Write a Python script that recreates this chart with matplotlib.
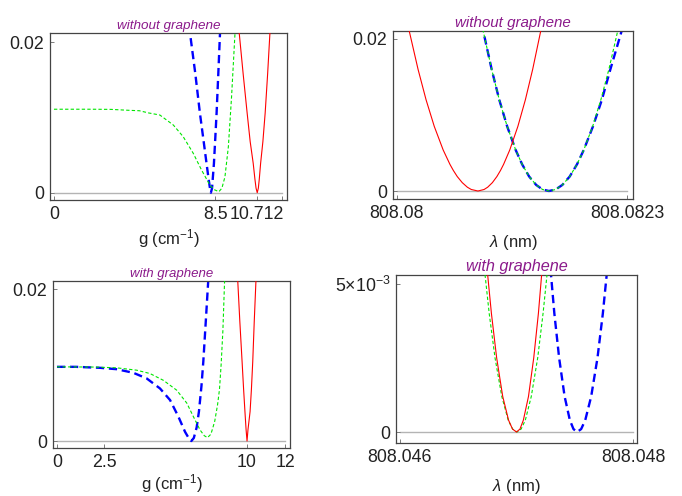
import matplotlib
matplotlib.use("Agg")
import matplotlib.pyplot as plt

plt.rcParams["font.family"] = ["Liberation Sans", "DejaVu Sans"]
plt.rcParams["mathtext.fontset"] = "custom"
plt.rcParams["mathtext.rm"] = "Liberation Sans"
plt.rcParams["mathtext.it"] = "Liberation Sans:italic"

# ---- top left: reflectance vs g, without graphene ----
g1_red = [9.66, 9.764, 9.97, 10.18, 10.34, 10.50, 10.59, 10.65, 10.712,
          10.77, 10.82, 10.89, 11.01, 11.13, 11.26, 11.38, 11.43]
r1_red = [0.024, 0.0212, 0.0158, 0.0106, 0.0068, 0.0039, 0.0018, 0.0006, 0.0,
          0.0006, 0.0018, 0.0039, 0.0068, 0.0106, 0.0158, 0.0212, 0.024]
g1_blue = [7.10, 7.17, 7.45, 7.69, 7.90, 8.04, 8.15, 8.22, 8.27,
           8.33, 8.43, 8.50, 8.57, 8.66, 8.75, 8.78]
r1_blue = [0.024, 0.0212, 0.0158, 0.0106, 0.0066, 0.0039, 0.0018, 0.0006, 0.0,
           0.0006, 0.0039, 0.0072, 0.0106, 0.0158, 0.0212, 0.024]
g1_green = [0.0, 1.0, 2.0, 3.0, 4.0, 4.5, 5.0, 5.58, 6.29, 6.81, 7.34, 7.78,
            8.22, 8.45, 8.69, 8.85, 9.01, 9.19, 9.36, 9.54, 9.60]
r1_green = [0.0111, 0.0111, 0.0111, 0.01108, 0.01095, 0.0109, 0.0106, 0.01033,
            0.0090, 0.00745, 0.00524, 0.0030, 0.0010, 0.0004, 0.00013, 0.0006,
            0.0021, 0.0061, 0.0128, 0.0212, 0.025]

# ---- top right: reflectance vs wavelength, without graphene ----
l2_red = [808.080107, 808.08012, 808.080211, 808.080291, 808.080373,
          808.080462, 808.08053, 808.080564, 808.080603, 808.080653,
          808.080704, 808.080743, 808.08081,
          808.080871, 808.080907, 808.080954, 808.080999, 808.081035,
          808.081066, 808.081128, 808.081209, 808.081284, 808.081357,
          808.08144, 808.081452]
r2_red = [0.022, 0.0212, 0.016, 0.012, 0.0085, 0.0054, 0.0035, 0.0027, 0.0019,
          0.0011, 0.0005, 0.0002, 0.0,
          0.0002, 0.0005, 0.0011, 0.0019, 0.0027, 0.0035, 0.0054, 0.0085,
          0.012, 0.016, 0.0212, 0.022]
l2_green = [808.080848, 808.08086, 808.080947, 808.081023, 808.081102,
            808.081187, 808.081252, 808.081322, 808.081392, 808.081456,
            808.08152, 808.081587, 808.081654, 808.081727, 808.0818,
            808.081868, 808.081957, 808.082039, 808.082119, 808.08221,
            808.082223]
l2_blue = [808.080848, 808.08086, 808.080947, 808.081023, 808.081102,
           808.081187, 808.081252, 808.081322, 808.081392, 808.081456,
           808.08152, 808.081587, 808.081654, 808.081727, 808.0818,
           808.081868, 808.08196, 808.082049, 808.082134, 808.08225,
           808.082265]
r2_bg = [0.022, 0.0212, 0.016, 0.012, 0.0085, 0.0054, 0.0035, 0.0019, 0.0008,
         0.0002, 0.0, 0.0002, 0.0008, 0.0019, 0.0035, 0.0054, 0.0085, 0.012,
         0.016, 0.0212, 0.022]

# ---- bottom left: reflectance vs g, with graphene ----
g3_red = [9.45, 9.51, 9.62, 9.74, 9.82, 9.89, 9.95, 10.0,
          10.05, 10.16, 10.23, 10.30, 10.38, 10.47, 10.50]
r3_red = [0.024, 0.0212, 0.0158, 0.01045, 0.0068, 0.00387, 0.0015, 0.0,
          0.0015, 0.00387, 0.0068, 0.01045, 0.0158, 0.0212, 0.024]
g3_blue = [0.0, 1.0, 2.26, 3.14, 4.02, 4.72, 5.42, 5.95, 6.39, 6.74, 6.95,
           7.07, 7.20, 7.35, 7.47, 7.60, 7.70, 7.83, 7.96, 8.0]
r3_blue = [0.00978, 0.00978, 0.00965, 0.00947, 0.00899, 0.00825, 0.00693,
           0.0054, 0.0032, 0.0012, 0.0003, 0.0, 0.0004, 0.0018, 0.0039,
           0.0072, 0.0105, 0.0158, 0.0212, 0.024]
g3_green = [0.0, 2.0, 3.14, 4.19, 4.89, 5.6, 6.3, 6.83, 7.18, 7.53, 7.75,
            7.92, 8.1, 8.3, 8.45, 8.55, 8.64, 8.73, 8.82, 8.86]
r3_green = [0.00978, 0.00975, 0.00965, 0.00934, 0.0089, 0.0080, 0.0067,
            0.0050, 0.0032, 0.00145, 0.0007, 0.00045, 0.0009, 0.0026, 0.0048,
            0.0068, 0.0102, 0.0146, 0.0212, 0.024]

# ---- bottom right: reflectance vs wavelength, with graphene ----
r4_lvl = [0.0055, 0.004, 0.0025, 0.0012, 0.0004, 0.0001, 0.0,
          0.0001, 0.0004, 0.0012, 0.0025, 0.004, 0.0055]
l4_red = [808.046748, 808.046785, 808.04683, 808.046882, 808.046932,
          808.046966, 808.047, 808.04703, 808.047059, 808.047103,
          808.047148, 808.047188, 808.04722]
l4_green = [808.046725, 808.046766, 808.046816, 808.046874, 808.046929,
            808.046967, 808.047005, 808.04704, 808.047076, 808.047127,
            808.047182, 808.047228, 808.047267]
l4_blue = [808.047292, 808.047325, 808.047366, 808.047413, 808.047458,
           808.047489, 808.04752, 808.047555, 808.04759, 808.047641,
           808.047695, 808.047741, 808.047779]

RED = dict(color="#ff0000", lw=0.8, solid_joinstyle="round")
BLUE = dict(color="#0000ff", lw=1.7, dashes=(3.5, 2.0))
GREEN = dict(color="#00e600", lw=0.8, dashes=(3.0, 2.0))
TITLE_C = "#8b1a8b"

fig = plt.figure(figsize=(6.82, 4.96), dpi=100)

def setup(ax, xlim, ylim, xticks, xlabels, yticks, ylabels, xline, title, tsize, xlabel, lpad):
    ax.set_xlim(*xlim)
    ax.set_ylim(*ylim)
    ax.plot(xline, [0, 0], color="#b4b4b4", lw=1.0, zorder=1)
    ax.set_xticks(xticks)
    ax.set_xticklabels(xlabels)
    ax.set_yticks(yticks)
    ax.set_yticklabels(ylabels)
    ax.tick_params(direction="in", length=3, width=0.6, color="#666666",
                   labelsize=12.8, pad=4, labelcolor="#222222")
    for sp in ax.spines.values():
        sp.set_color("#444444")
        sp.set_linewidth(0.9)
    ax.set_title(title, fontsize=tsize, style="italic", color=TITLE_C, pad=3)
    ax.set_xlabel(xlabel, fontsize=12, labelpad=lpad, color="#222222")

# top left
ax1 = fig.add_axes([0.0733, 0.5968, 0.3475, 0.3367])
ax1.plot(g1_green, r1_green, **GREEN, zorder=3)
ax1.plot(g1_blue, r1_blue, **BLUE, zorder=2)
ax1.plot(g1_red, r1_red, **RED, zorder=4)
setup(ax1, (-0.21, 12.28), (-0.00097, 0.02124), [0, 8.5, 10.712, 12],
      ["0", "8.5", "10.712", ""], [0, 0.02], ["0", "0.02"], [0, 12],
      "without graphene", 9.7, r"g (cm$^{-1}$)", 3)

# top right
ax2 = fig.add_axes([0.5762, 0.5988, 0.3519, 0.3387])
ax2.plot(l2_red, r2_red, **RED, zorder=4)
ax2.plot(l2_blue, r2_bg, **BLUE, zorder=2)
ax2.plot(l2_green, r2_bg, **GREEN, zorder=3)
setup(ax2, (808.07996, 808.08236), (-0.00105, 0.02105), [808.08, 808.0823],
      ["808.08", "808.0823"], [0, 0.02], ["0", "0.02"], [808.08, 808.0823],
      "without graphene", 10.9, r"$\lambda$ (nm)", 8)

# bottom left
ax3 = fig.add_axes([0.0777, 0.0968, 0.3475, 0.3367])
ax3.plot(g3_green, r3_green, **GREEN, zorder=3)
ax3.plot(g3_blue, r3_blue, **BLUE, zorder=2)
ax3.plot(g3_red, r3_red, **RED, zorder=4)
setup(ax3, (-0.21, 12.26), (-0.00092, 0.0211), [0, 2.5, 10, 12],
      ["0", "2.5", "10", "12"], [0, 0.02], ["0", "0.02"], [0, 12],
      "with graphene", 9.5, r"g (cm$^{-1}$)", 1)

# bottom right
ax4 = fig.add_axes([0.5806, 0.1069, 0.3534, 0.3387])
ax4.plot(l4_blue, r4_lvl, **BLUE, zorder=2)
ax4.plot(l4_green, r4_lvl, **GREEN, zorder=3)
ax4.plot(l4_red, r4_lvl, **RED, zorder=4)
setup(ax4, (808.045966, 808.048034), (-0.00037, 0.0053), [808.046, 808.048],
      ["808.046", "808.048"], [0, 0.005], ["0", r"5$\times$10$^{-3}$"],
      [808.046, 808.048], "with graphene", 11.7, r"$\lambda$ (nm)", 8)

fig.savefig("out.png", dpi=100)
